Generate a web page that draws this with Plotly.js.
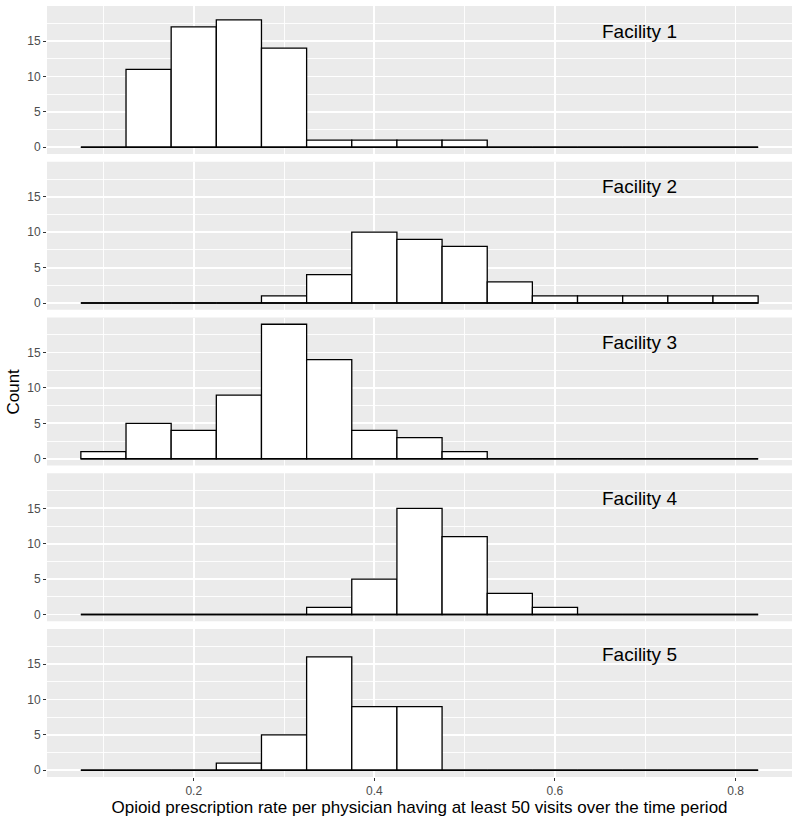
<!DOCTYPE html>
<html>
<head>
<meta charset="utf-8">
<script src="https://cdn.plot.ly/plotly-3.0.1.min.js"></script>
<style>html,body{margin:0;padding:0;background:#fff;}</style>
</head>
<body>
<div id="chart" style="width:800px;height:822px;"></div>
<script>
// Histogram bins (centers), bin width 0.05
const binCenters = [0.10,0.15,0.20,0.25,0.30,0.35,0.40,0.45,0.50,0.55,0.60,0.65,0.70,0.75,0.80];
const binWidth = 0.05;
const facilityNames = ["Facility 1","Facility 2","Facility 3","Facility 4","Facility 5"];
const facility1 = [0,11,17,18,14,1,1,1,1,0,0,0,0,0,0];
const facility2 = [0,0,0,0,1,4,10,9,8,3,1,1,1,1,1];
const facility3 = [1,5,4,9,19,14,4,3,1,0,0,0,0,0,0];
const facility4 = [0,0,0,0,0,1,5,15,11,3,1,0,0,0,0];
const facility5 = [0,0,0,1,5,16,9,9,0,0,0,0,0,0,0];
const xTicks = [0.2,0.4,0.6,0.8];
const xMinor = [0.1,0.3,0.5,0.7];
const yTicks = [0,5,10,15];
const yMinor = [2.5,7.5,12.5,17.5];
const xTitle = "Opioid prescription rate per physician having at least 50 visits over the time period";
const yTitle = "Count";

const series = [facility1,facility2,facility3,facility4,facility5];
const n = series.length;
const lo = binCenters[0] - binWidth/2;
const hi = binCenters[binCenters.length-1] + binWidth/2;
const xpad = (hi - lo) * 0.05;
const ymax = Math.max(...series.flat());
const ypad = ymax * 0.05;

const W = 800, H = 822;
const mt = 6, mb = 45, ml = 47, mr = 8;
const plotH = H - mt - mb;
const panelH = 148, gap = (plotH - n*panelH)/(n-1);

const traces = [];
const layout = {
  width: W, height: H,
  margin: {l: ml, r: mr, t: mt, b: mb},
  paper_bgcolor: "#FFFFFF",
  plot_bgcolor: "#EBEBEB",
  showlegend: false,
  font: {family: "Liberation Sans, Arial, sans-serif", color: "#000000"},
  annotations: [],
  bargap: 0
};

series.forEach((vals, i) => {
  const k = i === 0 ? "" : String(i+1);
  const xa = "x" + k, ya = "y" + k;
  traces.push({
    type: "bar", x: binCenters, y: vals, width: binWidth,
    xaxis: xa, yaxis: ya,
    marker: {color: "#FFFFFF", line: {color: "#000000", width: 1.3}},
    hoverinfo: "x+y"
  });
  traces.push({
    type: "scatter", mode: "lines", x: [lo, hi], y: [0, 0],
    xaxis: xa, yaxis: ya,
    line: {color: "#000000", width: 1.5}, hoverinfo: "skip"
  });
  const top = 1 - (i*(panelH+gap))/plotH;
  const bottom = top - panelH/plotH;
  const last = i === n-1;
  layout["xaxis"+k] = {
    range: [lo - xpad, hi + xpad],
    domain: [0,1],
    anchor: ya,
    tickvals: xTicks,
    ticktext: xTicks.map(v => v.toFixed(1)),
    showticklabels: last,
    ticks: last ? "outside" : "",
    ticklen: 3, tickcolor: "#333333", tickwidth: 1,
    tickfont: {size: 12, color: "#4D4D4D"},
    showgrid: true, gridcolor: "#FFFFFF", gridwidth: 1.8,
    minor: {showgrid: true, tickvals: xMinor, gridcolor: "#FFFFFF", gridwidth: 0.9},
    zeroline: false, showline: false,
    title: last ? {text: xTitle, font: {size: 17, color: "#000000"}, standoff: 3} : {text: ""}
  };
  layout["yaxis"+k] = {
    range: [-ypad, ymax + ypad],
    domain: [bottom, top],
    anchor: xa,
    tickvals: yTicks,
    ticks: "outside", ticklen: 3, tickcolor: "#333333", tickwidth: 1,
    tickfont: {size: 12, color: "#4D4D4D"},
    showgrid: true, gridcolor: "#FFFFFF", gridwidth: 1.8,
    minor: {showgrid: true, tickvals: yMinor, gridcolor: "#FFFFFF", gridwidth: 0.9},
    zeroline: false, showline: false,
    fixedrange: true
  };
  layout.annotations.push({
    text: facilityNames[i], xref: xa, yref: ya, x: 0.6935, y: 16.4,
    showarrow: false, font: {size: 19, color: "#000000"},
    xanchor: "center", yanchor: "middle"
  });
});

layout.annotations.push({
  text: yTitle, xref: "paper", yref: "paper", x: -0.0456, xanchor: "center",
  y: 0.5, yanchor: "middle", textangle: -90, showarrow: false,
  font: {size: 17, color: "#000000"}
});

Plotly.newPlot("chart", traces, layout, {displayModeBar: false, staticPlot: true});
</script>
</body>
</html>
